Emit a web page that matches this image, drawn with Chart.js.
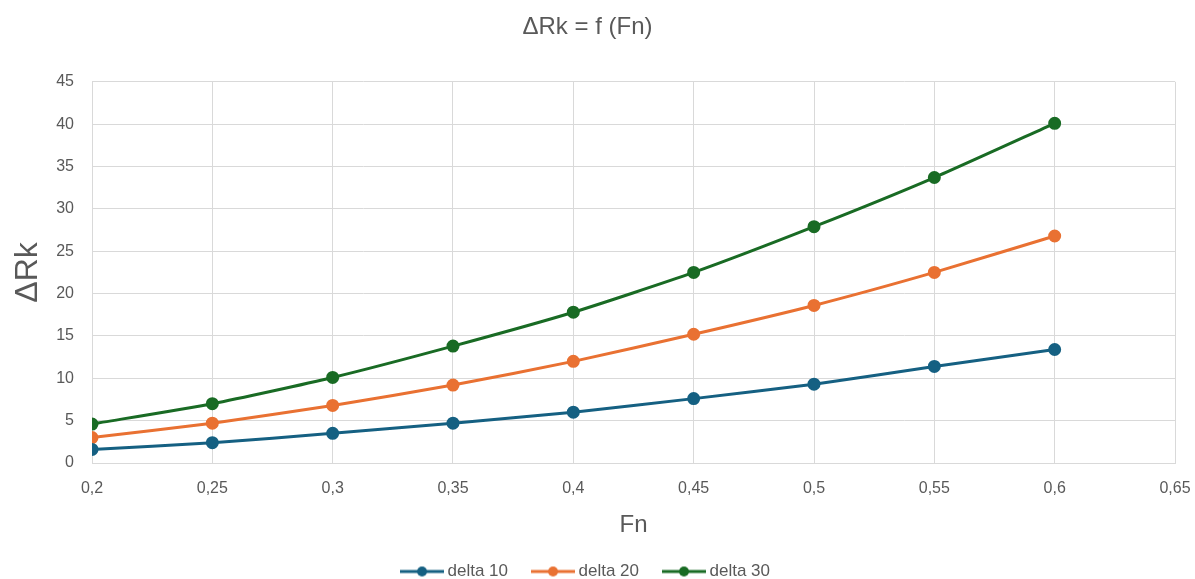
<!DOCTYPE html>
<html>
<head>
<meta charset="utf-8">
<script src="https://cdn.jsdelivr.net/npm/chart.js@4/dist/chart.umd.min.js"></script>
<style>
  html, body { margin: 0; padding: 0; background: #ffffff; }
  #wrap { width: 1195px; height: 579px; }
</style>
</head>
<body>
<div id="wrap"><canvas id="rkChart"></canvas></div>
<script>
const fnValues = [0.2, 0.25, 0.3, 0.35, 0.4, 0.45, 0.5, 0.55, 0.6];
const delta10 = [1.6, 2.4, 3.5, 4.7, 6.0, 7.6, 9.3, 11.4, 13.4];
const delta20 = [3.0, 4.7, 6.8, 9.2, 12.0, 15.2, 18.6, 22.5, 26.8];
const delta30 = [4.6, 7.0, 10.1, 13.8, 17.8, 22.5, 27.9, 33.7, 40.1];
const xTicks = [0.2, 0.25, 0.3, 0.35, 0.4, 0.45, 0.5, 0.55, 0.6, 0.65];
const seriesNames = ["delta 10", "delta 20", "delta 30"];
const seriesColors = ["#156082", "#E97132", "#196B24"];

const TEXT_COLOR = "#595959";
const GRID_COLOR = "#d9d9d9";
const FONT = "'Liberation Sans', Arial, sans-serif";

function toPoints(values) {
  return fnValues.map((x, i) => ({ x: x, y: values[i] }));
}

// legend marker: short line with a dot in the middle
function legendMarker(color) {
  const c = document.createElement("canvas");
  c.width = 44;
  c.height = 12;
  const ctx = c.getContext("2d");
  ctx.strokeStyle = color;
  ctx.lineWidth = 3;
  ctx.beginPath();
  ctx.moveTo(0, 6);
  ctx.lineTo(44, 6);
  ctx.stroke();
  ctx.fillStyle = color;
  ctx.beginPath();
  ctx.arc(22, 6, 5, 0, Math.PI * 2);
  ctx.fill();
  return c;
}

const allSeries = [delta10, delta20, delta30];

const rkChart = new Chart(document.getElementById("rkChart"), {
  type: "line",
  data: {
    datasets: allSeries.map((vals, i) => ({
      label: seriesNames[i],
      data: toPoints(vals),
      borderColor: seriesColors[i],
      backgroundColor: seriesColors[i],
      borderWidth: 3,
      pointRadius: 5,
      pointHoverRadius: 5,
      tension: 0.2,
      fill: false,
    })),
  },
  options: {
    responsive: true,
    maintainAspectRatio: false,
    animation: false,
    layout: { padding: { left: 0, right: 20, top: 0, bottom: 0 } },
    plugins: {
      title: {
        display: true,
        text: "ΔRk = f (Fn)",
        color: TEXT_COLOR,
        font: { family: FONT, size: 24, weight: "normal" },
        padding: { top: 13, bottom: 40 },
      },
      legend: {
        position: "bottom",
        maxHeight: 44,
        labels: {
          usePointStyle: true,
          pointStyleWidth: 34,
          color: TEXT_COLOR,
          font: { family: FONT, size: 17 },
          padding: 28,
          generateLabels: (chart) =>
            chart.data.datasets.map((ds, i) => ({
              text: ds.label,
              pointStyle: legendMarker(seriesColors[i]),
              fontColor: TEXT_COLOR,
              strokeStyle: seriesColors[i],
              fillStyle: seriesColors[i],
              lineWidth: 0,
              datasetIndex: i,
            })),
        },
      },
      tooltip: { enabled: false },
    },
    scales: {
      x: {
        type: "linear",
        min: 0.2,
        max: 0.65,
        afterBuildTicks: (axis) => {
          axis.ticks = xTicks.map((v) => ({ value: v }));
        },
        afterFit: (axis) => {
          axis.height = 72;
          axis.paddingRight = 0;
        },
        ticks: {
          color: TEXT_COLOR,
          font: { family: FONT, size: 16 },
          padding: 16,
          maxRotation: 0,
          callback: (value) => String(Math.round(value * 100) / 100).replace(".", ","),
        },
        grid: { color: GRID_COLOR, drawTicks: false },
        border: { color: GRID_COLOR },
        title: {
          display: true,
          text: "Fn",
          color: TEXT_COLOR,
          font: { family: FONT, size: 24 },
          padding: { top: 0, bottom: -5 },
        },
      },
      y: {
        min: 0,
        max: 45,
        afterFit: (axis) => { axis.width = 92; },
        ticks: {
          stepSize: 5,
          color: TEXT_COLOR,
          font: { family: FONT, size: 16 },
          padding: 18,
        },
        grid: { color: GRID_COLOR, drawTicks: false },
        border: { color: GRID_COLOR },
        title: {
          display: true,
          text: "ΔRk",
          color: TEXT_COLOR,
          font: { family: FONT, size: 32 },
          padding: { top: 9, bottom: 0 },
        },
      },
    },
  },
});
</script>
</body>
</html>
